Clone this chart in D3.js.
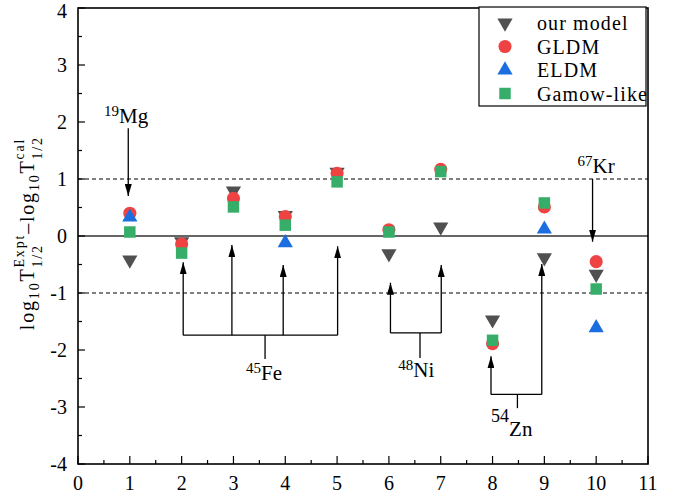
<!DOCTYPE html>
<html>
<head>
<meta charset="utf-8">
<script src="https://cdn.jsdelivr.net/npm/d3@7.9.0/dist/d3.min.js"></script>
<style>
  body { margin: 0; background: #fff; }
  svg { display: block; }
  svg text { font-family: "Liberation Serif", serif; }
</style>
</head>
<body>
<div id="chart"></div>
<script>
// values
const nuclei = [1, 2, 3, 4, 5, 6, 7, 8, 9, 10];
const ourModel = [-0.42, -0.10, 0.79, 0.36, 1.12, -0.31, 0.16, -1.47, -0.38, -0.67];
const gldm = [0.40, -0.14, 0.66, 0.34, 1.10, 0.11, 1.17, -1.89, 0.51, -0.45];
const eldm = [0.33, null, null, -0.12, null, null, null, null, 0.12, -1.61];
const gamowLike = [0.07, -0.30, 0.51, 0.19, 0.95, 0.07, 1.13, -1.83, 0.58, -0.93];
const seriesNames = ['our model', 'GLDM', 'ELDM', 'Gamow-like'];
const xTicks = d3.range(0, 12);
const yTicks = d3.range(-4, 5);

// annotations, in data units
const singleArrows = [
  { iso: '19', el: 'Mg', x: 0.97, from: 1.89, to: 0.70, lx: 0.93, ly: 1.98 },
  { iso: '67', el: 'Kr', x: 9.93, from: 1.00, to: -0.10, lx: 10.0, ly: 1.10 },
];
const brackets = [
  { iso: '45', el: 'Fe', xs: [2.03, 2.97, 3.96, 5.01], tips: [-0.46, -0.16, -0.51, -0.18], base: -1.74, stemX: 3.61, stemEnd: -2.16, lx: 3.59, ly: -2.53 },
  { iso: '48', el: 'Ni', xs: [6.03, 7.01], tips: [-0.82, -0.51], base: -1.70, stemX: 6.60, stemEnd: -2.14, lx: 6.53, ly: -2.48 },
  { iso: '54', el: 'Zn', xs: [7.97, 8.95], tips: [-2.11, -0.49], base: -2.78, stemX: 8.48, stemEnd: -3.02, lx: 8.37, ly: -3.50, bigIso: true },
];

const width = 678, height = 497;
const margin = { top: 8, right: 30, bottom: 33, left: 78 };

const svg = d3.select('#chart').append('svg').attr('width', width).attr('height', height);

const xScale = d3.scaleLinear().domain([0, 11]).range([margin.left, width - margin.right]);
const yScale = d3.scaleLinear().domain([-4, 4]).range([height - margin.bottom, margin.top]);

svg.append('defs').append('marker')
  .attr('id', 'arrow').attr('viewBox', '0 0 12 7').attr('refX', 12).attr('refY', 3.5)
  .attr('markerWidth', 12).attr('markerHeight', 7).attr('markerUnits', 'userSpaceOnUse')
  .attr('orient', 'auto')
  .append('path').attr('d', 'M0,0L12,3.5L0,7Z').attr('fill', '#000');

// text with super/subscripts, parts are laid out one after another
function richText(parent, parts, cx, cy, spacing = 0) {
  const g = parent.append('g');
  let x = 0, lastStart = 0, lastEnd = 0;
  parts.forEach(p => {
    const start = p.stack ? lastStart : x;
    const t = g.append('text').attr('x', start).attr('y', -(p.up || 0))
      .attr('font-size', p.size).attr('letter-spacing', spacing).text(p.t);
    const end = start + t.node().getComputedTextLength();
    if (p.stack) x = Math.max(lastEnd, end);
    else { lastStart = start; lastEnd = end; x = end; }
  });
  g.attr('transform', `translate(${cx - x / 2},${cy})`);
  return g;
}

// reference lines
svg.append('line').attr('x1', xScale(0)).attr('x2', xScale(11)).attr('y1', yScale(0)).attr('y2', yScale(0))
  .attr('stroke', '#333').attr('stroke-width', 1.3);
[1, -1].forEach(v => {
  svg.append('line').attr('x1', xScale(0)).attr('x2', xScale(11)).attr('y1', yScale(v)).attr('y2', yScale(v))
    .attr('stroke', '#000').attr('stroke-width', 1).attr('stroke-dasharray', '4,3');
});

// axes
const xAxis = svg.append('g').attr('transform', `translate(0,${yScale(-4)})`);
xAxis.selectAll('line.minor').data(d3.range(0.5, 11, 1)).join('line')
  .attr('x1', d => xScale(d)).attr('x2', d => xScale(d)).attr('y1', 0).attr('y2', -4)
  .attr('stroke', '#000').attr('stroke-width', 1.2);
xAxis.selectAll('line.major').data(xTicks).join('line')
  .attr('x1', d => xScale(d)).attr('x2', d => xScale(d)).attr('y1', 0).attr('y2', -8)
  .attr('stroke', '#000').attr('stroke-width', 1.2);
xAxis.selectAll('text').data(xTicks).join('text')
  .attr('x', d => xScale(d)).attr('y', 26).attr('text-anchor', 'middle').attr('font-size', 20)
  .text(d => d);

const yAxis = svg.append('g').attr('transform', `translate(${xScale(0)},0)`);
yAxis.selectAll('line.minor').data(d3.range(-3.5, 4, 1)).join('line')
  .attr('y1', d => yScale(d)).attr('y2', d => yScale(d)).attr('x1', 0).attr('x2', 4)
  .attr('stroke', '#000').attr('stroke-width', 1.2);
yAxis.selectAll('line.major').data(yTicks).join('line')
  .attr('y1', d => yScale(d)).attr('y2', d => yScale(d)).attr('x1', 0).attr('x2', 7)
  .attr('stroke', '#000').attr('stroke-width', 1.2);
yAxis.selectAll('text').data(yTicks).join('text')
  .attr('x', -11).attr('y', d => yScale(d) + (d === 4 ? 10 : 7)).attr('text-anchor', 'end').attr('font-size', 20)
  .text(d => d < 0 ? '-' + Math.abs(d) : d);

// frame
svg.append('rect').attr('x', xScale(0)).attr('y', yScale(4))
  .attr('width', xScale(11) - xScale(0)).attr('height', yScale(-4) - yScale(4))
  .attr('fill', 'none').attr('stroke', '#000').attr('stroke-width', 1.6);

// y label
const yLabel = svg.append('g').attr('transform', `translate(34,${yScale(0.05)}) rotate(-90)`);
richText(yLabel, [
  { t: 'log', size: 20 }, { t: '10', size: 14, up: -5 }, { t: 'T', size: 20 },
  { t: 'Expt', size: 14, up: 10 }, { t: '1/2', size: 14, up: -8, stack: true },
  { t: '\u2013log', size: 20 }, { t: '10', size: 14, up: -5 }, { t: 'T', size: 20 },
  { t: 'cal', size: 14, up: 10 }, { t: '1/2', size: 14, up: -8, stack: true },
], 0, 0, 1.8);

// annotations
const ann = svg.append('g').attr('stroke', '#000').attr('stroke-width', 1.3);
singleArrows.forEach(a => {
  ann.append('line').attr('x1', xScale(a.x)).attr('x2', xScale(a.x))
    .attr('y1', yScale(a.from)).attr('y2', yScale(a.to)).attr('marker-end', 'url(#arrow)');
  richText(svg, [{ t: a.iso, size: 15, up: 7 }, { t: a.el, size: 21 }], xScale(a.lx), yScale(a.ly));
});
brackets.forEach(b => {
  b.xs.forEach((x, i) => {
    ann.append('line').attr('x1', xScale(x)).attr('x2', xScale(x))
      .attr('y1', yScale(b.base)).attr('y2', yScale(b.tips[i])).attr('marker-end', 'url(#arrow)');
  });
  ann.append('line').attr('x1', xScale(b.xs[0])).attr('x2', xScale(b.xs[b.xs.length - 1]))
    .attr('y1', yScale(b.base)).attr('y2', yScale(b.base));
  ann.append('line').attr('x1', xScale(b.stemX)).attr('x2', xScale(b.stemX))
    .attr('y1', yScale(b.base)).attr('y2', yScale(b.stemEnd));
  const isoPart = b.bigIso ? { t: b.iso, size: 18, up: 14 } : { t: b.iso, size: 15, up: 7 };
  richText(svg, [isoPart, { t: b.el, size: 21 }], xScale(b.lx), yScale(b.ly));
});

// data points
const series = [
  { name: seriesNames[0], values: ourModel, color: '#505050', symbol: d3.symbolTriangle, size: 100, rotate: 180 },
  { name: seriesNames[1], values: gldm, color: '#ef4343', symbol: d3.symbolCircle, size: 135, rotate: 0 },
  { name: seriesNames[2], values: eldm, color: '#1c6ee0', symbol: d3.symbolTriangle, size: 100, rotate: 0 },
  { name: seriesNames[3], values: gamowLike, color: '#36ae6a', symbol: d3.symbolSquare, size: 132, rotate: 0 },
];
series.forEach(s => {
  const pts = nuclei.map((n, i) => ({ n, v: s.values[i] })).filter(d => d.v != null);
  svg.append('g').selectAll('path').data(pts).join('path')
    .attr('d', d3.symbol(s.symbol, s.size))
    .attr('transform', d => `translate(${xScale(d.n)},${yScale(d.v)}) rotate(${s.rotate})`)
    .attr('fill', s.color);
});

// legend
const lg = svg.append('g').attr('transform', 'translate(479,7)');
lg.append('rect').attr('width', 167).attr('height', 99).attr('fill', '#fff').attr('stroke', '#000').attr('stroke-width', 1.2);
series.forEach((s, i) => {
  const y = 16 + i * 23.5;
  lg.append('path').attr('d', d3.symbol(s.symbol, s.size))
    .attr('transform', `translate(26,${y}) rotate(${s.rotate})`).attr('fill', s.color);
  lg.append('text').attr('x', 58).attr('y', y + 7).attr('font-size', 20)
    .attr('letter-spacing', 1.1).text(s.name);
});
</script>
</body>
</html>
